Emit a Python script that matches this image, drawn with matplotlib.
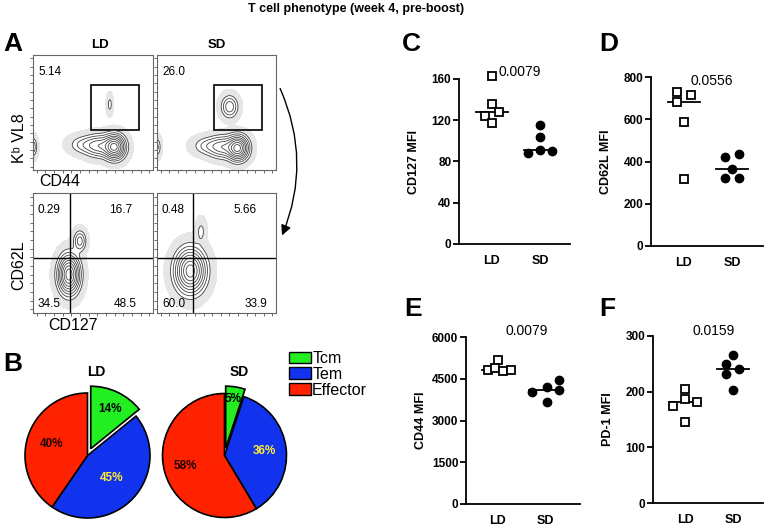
import numpy as np
import matplotlib
matplotlib.use('Agg')
import matplotlib.pyplot as plt
from matplotlib.patches import Patch, Rectangle, FancyArrowPatch

plt.rcParams['font.family'] = ['Liberation Sans', 'DejaVu Sans']

W, H = 768, 526

# ---- dot plot data (MFI, 5 mice per group) ----
groups = ['LD', 'SD']
cd127_ld = [163, 136, 124, 128, 117]
cd127_sd = [115, 104, 88, 91, 90]
cd62l_ld = [731, 684, 716, 589, 319]
cd62l_sd = [423, 436, 364, 322, 322]
cd44_ld = [5164, 4805, 4888, 4769, 4805]
cd44_sd = [4027, 4206, 4447, 4113, 3668]
pd1_ld = [204, 186, 175, 182, 146]
pd1_sd = [266, 250, 232, 241, 203]
p_values = ['0.0079', '0.0556', '0.0079', '0.0159']

# ---- pie data (% of Kb VL8+ cells) ----
subsets = ['Tcm', 'Tem', 'Effector']
pie_ld = [14, 45, 40]
pie_sd = [5, 36, 58]
pie_colors = ['#22ee22', '#1133ee', '#ff2200']

# ---- flow gate frequencies ----
gate_ld = '5.14'
gate_sd = '26.0'
quad_ld = ['0.29', '16.7', '34.5', '48.5']
quad_sd = ['0.48', '5.66', '60.0', '33.9']

# density blobs for the flow plots: (x, y, sx, sy, weight)
flow_ld_top = [(0.68, 0.20, 0.05, 0.06, 1.0), (0.55, 0.21, 0.07, 0.055, 0.4),
               (0.42, 0.22, 0.07, 0.045, 0.15), (0.64, 0.57, 0.015, 0.05, 0.09),
               (0.0, 0.2, 0.02, 0.05, 0.2)]
flow_sd_top = [(0.68, 0.19, 0.05, 0.06, 1.0), (0.55, 0.20, 0.07, 0.055, 0.4),
               (0.42, 0.21, 0.07, 0.045, 0.15), (0.61, 0.55, 0.04, 0.055, 0.3),
               (0.0, 0.2, 0.02, 0.05, 0.15)]
flow_ld_bot = [(0.30, 0.32, 0.05, 0.09, 1.0), (0.39, 0.60, 0.03, 0.05, 0.25)]
flow_sd_bot = [(0.28, 0.35, 0.07, 0.1, 1.0), (0.37, 0.68, 0.025, 0.06, 0.08)]


def box(l, t, r, b):
    return [l / W, 1 - b / H, (r - l) / W, (b - t) / H]


def ftext(x, y, s, **kw):
    fig.text(x / W, 1 - y / H, s, **kw)


fig = plt.figure(figsize=(W / 100, H / 100), dpi=100)

ftext(356, 9, 'T cell phenotype (week 4, pre-boost)', ha='center', va='center',
      fontsize=9, fontweight='bold')

# panel letters
for lt, x, y in [('A', 3, 44), ('B', 3, 364), ('C', 402, 44), ('D', 599, 44),
                 ('E', 404, 309), ('F', 599, 309)]:
    ftext(x, y, lt, ha='left', va='center', fontsize=19, fontweight='bold')


# ---- A: flow plots ----
gx, gy = np.meshgrid(np.linspace(0, 1, 200), np.linspace(0, 1, 200))


def flow(rect, blobs):
    ax = fig.add_axes(box(*rect))
    dens = np.zeros_like(gx)
    for cx, cy, sx, sy, w in blobs:
        dens += w * np.exp(-0.5 * (((gx - cx) / sx) ** 2 + ((gy - cy) / sy) ** 2))
    m = dens.max()
    ax.contourf(gx, gy, dens, levels=[m * 0.006, m * 0.06], colors=['#e6e6e6'])
    ax.contour(gx, gy, dens, levels=m * np.array([0.06, 0.12, 0.2, 0.3, 0.42, 0.56, 0.72, 0.88]),
               colors='#444444', linewidths=0.6)
    ax.set_xlim(0, 1)
    ax.set_ylim(0, 1)
    ticks = np.linspace(0.03, 0.97, 14)
    ax.set_xticks(ticks)
    ax.set_yticks(ticks)
    ax.tick_params(length=2, width=0.6, direction='out', labelbottom=False, labelleft=False,
                   colors='#555555')
    for s in ax.spines.values():
        s.set_color('#666666')
        s.set_linewidth(0.8)
    return ax


ax = flow((33, 55, 153, 170), flow_ld_top)
ax.add_patch(Rectangle((0.48, 0.35), 0.40, 0.39, fill=False, ec='black', lw=1.2))
ax = flow((157, 55, 276, 170), flow_sd_top)
ax.add_patch(Rectangle((0.475, 0.35), 0.405, 0.39, fill=False, ec='black', lw=1.2))
for rect, vx in [((33, 193, 153, 313), 0.31), ((157, 193, 276, 313), 0.30)]:
    ax = flow(rect, flow_ld_bot if vx == 0.31 else flow_sd_bot)
    ax.axvline(vx, color='black', lw=1)
    ax.axhline(0.46, color='black', lw=1)

ftext(100, 45, 'LD', ha='center', va='center', fontsize=9.5, fontweight='bold')
ftext(217, 45, 'SD', ha='center', va='center', fontsize=9.5, fontweight='bold')
ftext(38, 72, gate_ld, ha='left', va='center', fontsize=8.5)
ftext(162, 72, gate_sd, ha='left', va='center', fontsize=8.5)
for q, x0 in [(quad_ld, 33), (quad_sd, 157)]:
    ftext(x0 + 5, 210, q[0], ha='left', va='center', fontsize=8.5)
    ftext(x0 + 99 if x0 == 33 else x0 + 100, 210, q[1], ha='right', va='center', fontsize=8.5)
    ftext(x0 + 5, 304, q[2], ha='left', va='center', fontsize=8.5)
    ftext(x0 + 104 if x0 == 33 else x0 + 110, 304, q[3], ha='right', va='center', fontsize=8.5)
ftext(19, 138, 'Kᵇ VL8', ha='center', va='center', rotation=90, fontsize=11.5)
ftext(60, 182, 'CD44', ha='center', va='center', fontsize=11.5)
ftext(19, 265, 'CD62L', ha='center', va='center', rotation=90, fontsize=11.5)
ftext(73, 325, 'CD127', ha='center', va='center', fontsize=11.5)

arrow = FancyArrowPatch((279 / W, 1 - 86 / H), (281 / W, 1 - 238 / H),
                        transform=fig.transFigure, connectionstyle='arc3,rad=-0.22',
                        arrowstyle='-|>,head_length=6,head_width=3', color='black', lw=1)
fig.patches.append(arrow)


# ---- B: pies ----
def pie(cx, cy, r, vals, dists, title):
    ax = fig.add_axes(box(cx - r, cy - r, cx + r, cy + r))
    wedges, _ = ax.pie(vals, colors=pie_colors, startangle=90, counterclock=False,
                       explode=[0.12, 0, 0], normalize=True,
                       wedgeprops=dict(edgecolor='black', linewidth=1.2))
    for w, v, d, c in zip(wedges, vals, dists, ['black', '#ffee33', '#220000']):
        th = np.deg2rad((w.theta1 + w.theta2) / 2)
        ax.text(w.center[0] + d * np.cos(th), w.center[1] + d * np.sin(th), f'{v}%',
                ha='center', va='center', fontsize=8.5, fontweight='bold', color=c)
    ax.set_xlim(-1, 1)
    ax.set_ylim(-1, 1)
    ax.set_aspect('equal')
    ax.axis('off')
    for w in wedges:
        w.set_clip_on(False)
    ftext(cx + 9 if title == 'LD' else cx + 15, 372, title, ha='center', va='center',
          fontsize=10, fontweight='bold')


pie(87.5, 455.5, 62.5, pie_ld, [0.7, 0.52, 0.6], 'LD')
pie(224.5, 455.5, 62, pie_sd, [0.8, 0.65, 0.66], 'SD')
handles = [Patch(facecolor=c, edgecolor='black', lw=1) for c in pie_colors]
fig.legend(handles, subsets, loc='upper left', bbox_to_anchor=(289 / W, 1 - 351 / H),
           frameon=False, fontsize=11.5, handlelength=1.4, handleheight=0.75,
           handletextpad=0.05, labelspacing=0.05, borderpad=0, borderaxespad=0)


# ---- C-F: dot plots ----
def dotplot(rect, ld, sd, jit_ld, jit_sd, ymax, yticks, ylabel, pval, ppu, ldx, pxy):
    l, t, r, b = rect
    ax = fig.add_axes(box(*rect))
    ax.plot(np.array(jit_ld), ld, 's', mfc='white', mec='black', mew=1.3, ms=6,
            clip_on=False, zorder=3)
    ax.plot(1 + np.array(jit_sd), sd, 'o', color='black', ms=6, clip_on=False, zorder=3)
    for x, v in [(0, ld), (1, sd)]:
        m = np.median(v)
        ax.plot([x - 0.33, x + 0.33], [m, m], color='black', lw=1.3, zorder=2)
    ax.set_xlim(-(ldx - l) / ppu, (r - ldx) / ppu)
    ax.set_ylim(0, ymax)
    for s in ['top', 'right']:
        ax.spines[s].set_visible(False)
    for s in ['left', 'bottom']:
        ax.spines[s].set_linewidth(1.3)
    ax.set_yticks(yticks)
    ax.set_xticks([0, 1])
    ax.set_xticklabels(groups)
    ax.tick_params(axis='y', length=4, width=1.3, labelsize=8.5, pad=1.5)
    ax.tick_params(axis='x', length=0, labelsize=9, pad=8)
    for lab in ax.get_xticklabels() + ax.get_yticklabels():
        lab.set_fontweight('bold')
    ax.set_ylabel(ylabel, fontsize=9, fontweight='bold')
    ax.yaxis.set_label_coords(-39 / (r - l), 0.5)
    ftext(pxy[0], pxy[1], pval, ha='center', va='center', fontsize=10)


dotplot((459, 79, 570, 244), cd127_ld, cd127_sd, [0, 0, -0.15, 0.14, 0],
        [0, 0, -0.26, 0, 0.26], 160, [0, 40, 80, 120, 160], 'CD127 MFI', p_values[0],
        48, 492, (520, 72))
dotplot((651, 77, 763, 246), cd62l_ld, cd62l_sd, [-0.14, -0.14, 0.14, 0, 0],
        [-0.14, 0.14, 0, -0.14, 0.14], 800, [0, 200, 400, 600, 800], 'CD62L MFI',
        p_values[1], 48, 684, (712, 81))
dotplot((466, 337, 580, 504), cd44_ld, cd44_sd, [0, -0.21, -0.06, 0.11, 0.28],
        [-0.28, 0.04, 0.3, 0.3, 0.04], 6000, [0, 1500, 3000, 4500, 6000], 'CD44 MFI',
        p_values[2], 47, 498, (527, 331))
dotplot((653, 336, 763, 503), pd1_ld, pd1_sd, [0, 0, -0.26, 0.26, 0],
        [0, -0.15, -0.15, 0.13, 0], 300, [0, 100, 200, 300], 'PD-1 MFI',
        p_values[3], 48, 685, (714, 331))

fig.savefig('out.png', dpi=100)
